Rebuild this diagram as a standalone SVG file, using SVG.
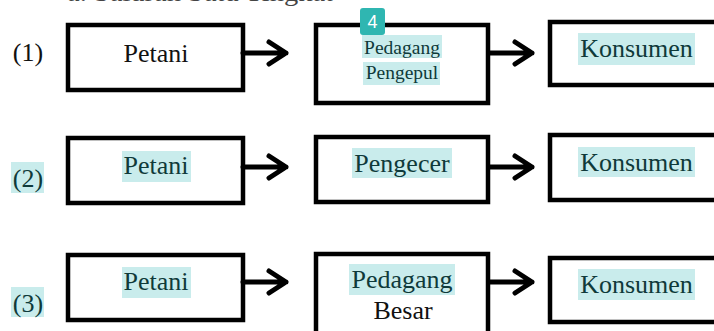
<svg xmlns="http://www.w3.org/2000/svg" width="714" height="331" viewBox="0 0 714 331">
<defs>
<style>
.box{fill:#fff;stroke:#000;stroke-width:4.5}
.hl{fill:#c9ecec}
.t{font-family:"Liberation Serif","Times New Roman",serif;font-size:26px;fill:#111;text-anchor:middle}
.th{fill:#0f3a3a}
.s{font-size:19.5px}
.ar{fill:none;stroke:#000;stroke-width:5;stroke-linecap:round;stroke-linejoin:round}
</style>
</defs>
<rect width="714" height="331" fill="#fff"/>
<text x="67" y="1" class="t" style="text-anchor:start;fill:#444" textLength="266" lengthAdjust="spacingAndGlyphs">a.   Saluran Satu Tingkat</text>

<g id="labels">
<text x="28" y="61" class="t">(1)</text>
<rect class="hl" x="11" y="162" width="33" height="31"/>
<text x="28" y="187" class="t th">(2)</text>
<rect class="hl" x="11" y="287" width="33" height="30"/>
<text x="28" y="312" class="t th">(3)</text>
</g>

<g id="r1-petani">
<rect class="box" x="68" y="25" width="175" height="65"/>
<text x="156" y="62" class="t">Petani</text>
</g>
<g id="r1-pedagang-pengepul">
<rect class="box" x="316" y="25" width="172" height="78"/>
<rect class="hl" x="362" y="35" width="80" height="23"/>
<rect class="hl" x="363" y="62" width="77" height="23"/>
<text x="402" y="54" class="t th s">Pedagang</text>
<text x="402" y="79" class="t th s">Pengepul</text>
<rect x="360" y="8" width="25" height="27" rx="3" fill="#2fb6b1"/>
<text x="372.5" y="28" style="font-family:'Liberation Sans',Arial,sans-serif;font-size:18px;fill:#fff;text-anchor:middle">4</text>
</g>
<g id="r1-konsumen">
<rect class="box" x="550" y="22" width="180" height="63"/>
<rect class="hl" x="578" y="33" width="117" height="32"/>
<text x="636.5" y="57" class="t th">Konsumen</text>
</g>

<g id="r2-petani">
<rect class="box" x="68" y="138" width="175" height="65"/>
<rect class="hl" x="122" y="151" width="69" height="31"/>
<text x="156" y="174" class="t th">Petani</text>
</g>
<g id="r2-pengecer">
<rect class="box" x="316" y="137" width="172" height="65"/>
<rect class="hl" x="352" y="148" width="100" height="30"/>
<text x="402" y="172" class="t th">Pengecer</text>
</g>
<g id="r2-konsumen">
<rect class="box" x="550" y="135" width="180" height="65"/>
<rect class="hl" x="578" y="147" width="117" height="30"/>
<text x="636.5" y="171" class="t th">Konsumen</text>
</g>

<g id="r3-petani">
<rect class="box" x="68" y="255" width="175" height="65"/>
<rect class="hl" x="122" y="267" width="69" height="31"/>
<text x="156" y="290" class="t th">Petani</text>
</g>
<g id="r3-pedagang-besar">
<rect class="box" x="316" y="254" width="172" height="90"/>
<rect class="hl" x="349" y="264" width="106" height="31"/>
<text x="402" y="288" class="t th">Pedagang</text>
<text x="403" y="319" class="t">Besar</text>
</g>
<g id="r3-konsumen">
<rect class="box" x="550" y="258" width="180" height="64"/>
<rect class="hl" x="578" y="269" width="117" height="31"/>
<text x="636.5" y="293" class="t th">Konsumen</text>
</g>

<g id="connectors">
<path class="ar" d="M243 53H286M269 42L286 53L269 64"/>
<path class="ar" d="M490 53H532M515 42L532 53L515 64"/>
<path class="ar" d="M243 167H286M269 156L286 167L269 178"/>
<path class="ar" d="M490 167H532M515 156L532 167L515 178"/>
<path class="ar" d="M243 282H286M269 271L286 282L269 293"/>
<path class="ar" d="M490 282H532M515 271L532 282L515 293"/>
</g>
</svg>
